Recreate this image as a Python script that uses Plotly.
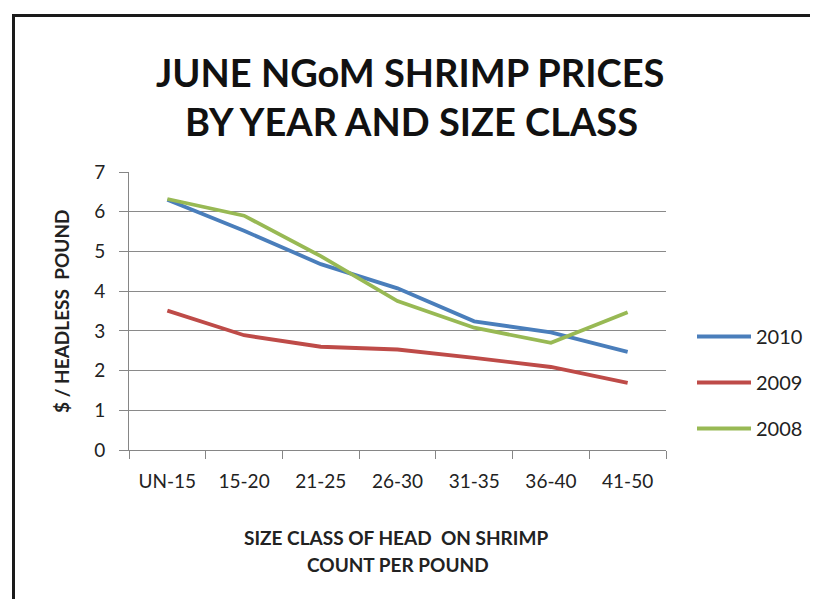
import plotly.graph_objects as go

categories = ["UN-15", "15-20", "21-25", "26-30", "31-35", "36-40", "41-50"]
series_names = ["2010", "2009", "2008"]
prices_2010 = [6.30, 5.52, 4.68, 4.07, 3.24, 2.96, 2.47]
prices_2009 = [3.51, 2.89, 2.60, 2.53, 2.32, 2.09, 1.69]
prices_2008 = [6.32, 5.90, 4.88, 3.75, 3.08, 2.70, 3.47]
colors = ["#4A7EBB", "#BE4B48", "#98B954"]
y_ticks = [0, 1, 2, 3, 4, 5, 6, 7]

W, H = 818, 599
L, R, T, B = 121, 160, 164, 157
pw, ph = W - L - R, H - T - B

def px_x(x):
    return (x - L) / pw

def px_y(y):
    return (H - B - y) / ph

fig = go.Figure()
for name, vals, col in zip(series_names, [prices_2010, prices_2009, prices_2008], colors):
    fig.add_trace(go.Scatter(x=categories, y=vals, mode="lines", name=name,
                             legendgroup=name,
                             line=dict(color=col, width=3.8)))

font_main = "Lato, Open Sans, sans-serif"

fig.update_layout(
    width=W, height=H,
    margin=dict(l=L, r=R, t=T, b=B),
    paper_bgcolor="white", plot_bgcolor="white",
    showlegend=True,
    legend=dict(x=px_x(684), y=px_y(309), xanchor="left", yanchor="top",
                font=dict(family=font_main, size=20, color="#222"),
                itemwidth=54, tracegroupgap=17, bgcolor="rgba(0,0,0,0)"),
    xaxis=dict(type="category", showgrid=False, showline=True, linecolor="#868686",
               ticks="outside", tickson="boundaries", ticklen=8, tickcolor="#868686",
               ticklabelstandoff=14,
               tickfont=dict(family=font_main, size=19, color="#222"),
               range=[-0.5, 6.5]),
    yaxis=dict(range=[0, 7], tickvals=y_ticks, showgrid=True, gridcolor="#8a8a8a",
               gridwidth=1, showline=True, linecolor="#868686", ticks="outside",
               ticklen=9, tickcolor="#868686", zeroline=False,
               ticklabelstandoff=10,
               tickfont=dict(family=font_main, size=19, color="#222")),
)

annotations = [
    dict(text="<b>JUNE NGoM SHRIMP PRICES</b>", x=px_x(402), y=px_y(64)),
    dict(text="<b>BY YEAR AND SIZE CLASS</b>", x=px_x(403), y=px_y(113)),
]
for a in annotations:
    fig.add_annotation(xref="paper", yref="paper", showarrow=False,
                       xanchor="center", yanchor="middle",
                       font=dict(family=font_main, size=38, color="#111"), **a)

fig.add_annotation(xref="paper", yref="paper", showarrow=False,
                   x=px_x(388), y=px_y(529), xanchor="center", yanchor="middle",
                   text="<b>SIZE CLASS OF HEAD  ON SHRIMP</b>",
                   font=dict(family=font_main, size=19, color="#222"))
fig.add_annotation(xref="paper", yref="paper", showarrow=False,
                   x=px_x(390), y=px_y(556), xanchor="center", yanchor="middle",
                   text="<b>COUNT PER POUND</b>",
                   font=dict(family=font_main, size=19, color="#222"))
fig.add_annotation(xref="paper", yref="paper", showarrow=False,
                   x=px_x(53), y=px_y(303), xanchor="center", yanchor="middle",
                   textangle=-90, text="<b>$ / HEADLESS  POUND</b>",
                   font=dict(family=font_main, size=19, color="#222"))

# outer frame (left and top edges)
fig.add_shape(type="line", xref="paper", yref="paper",
              x0=px_x(5.5), x1=px_x(5.5), y0=px_y(6), y1=px_y(H + 5),
              line=dict(color="#1a1a1a", width=3))
fig.add_shape(type="line", xref="paper", yref="paper",
              x0=px_x(4), x1=px_x(W + 5), y0=px_y(7.5), y1=px_y(7.5),
              line=dict(color="#1a1a1a", width=3))

fig.write_html("out.html")
